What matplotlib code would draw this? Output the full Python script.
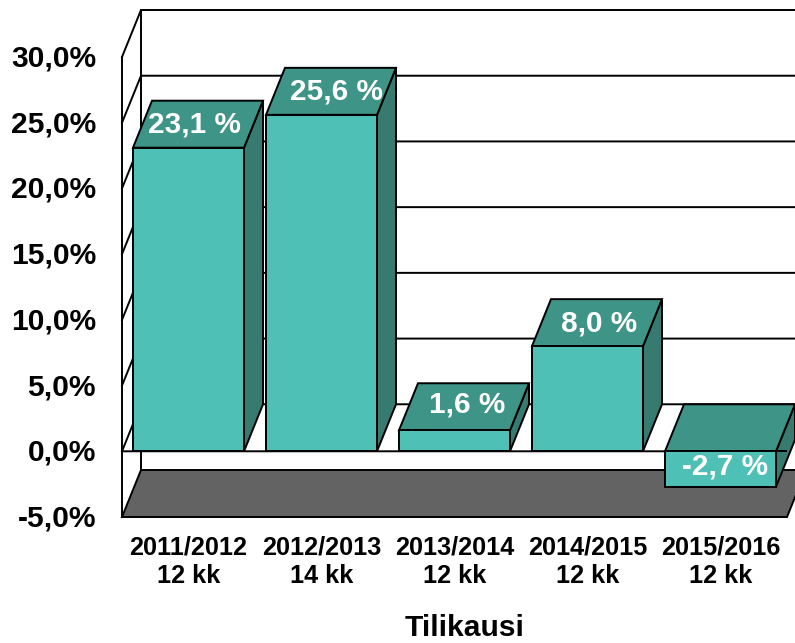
import matplotlib.pyplot as plt
import matplotlib.transforms as mtrans
import numpy as np

plt.rcParams["font.family"] = ["Liberation Sans", "DejaVu Sans"]

periods = ["2011/2012", "2012/2013", "2013/2014", "2014/2015", "2015/2016"]
months = ["12 kk", "14 kk", "12 kk", "12 kk", "12 kk"]
values = [23.1, 25.6, 1.6, 8.0, -2.7]
y_ticks = [-5, 0, 5, 10, 15, 20, 25, 30]

W, H = 795, 643
FRONT = "#4FC0B5"
TOP = "#3E9486"
SIDE = "#367A70"
FLOOR = "#636363"
LW = 1.4

fig = plt.figure(figsize=(W / 100, H / 100), dpi=100)
# axes box is the front plane of the 3d chart
ax = fig.add_axes([122 / W, 1 - 517 / H, 665 / W, 460 / H])
ax.set_xlim(-0.5, 4.5)
ax.set_ylim(-5, 30)
for s in ax.spines.values():
    s.set_visible(False)

# depth of the fake 3d in data units
dx = 19 / 133
dy = 47 / (460 / 35)
x_left, x_right = -0.5, 4.5

# back wall, left wall and grid
for t in y_ticks[1:]:
    ax.plot([x_left, x_left + dx, x_right + dx], [t, t + dy, t + dy],
            color="black", lw=LW, clip_on=False, zorder=1)
ax.plot([x_left, x_left], [-5, 30], color="black", lw=LW, clip_on=False, zorder=1)
ax.plot([x_left + dx, x_left + dx], [-5 + dy, 30 + dy], color="black", lw=LW, clip_on=False, zorder=1)

# floor
ax.fill([x_left, x_right, x_right + dx, x_left + dx], [-5, -5, -5 + dy, -5 + dy],
        facecolor=FLOOR, edgecolor="black", lw=LW, clip_on=False, zorder=2)

# bars, left to right
bar_w = 111 / 133
xs = np.arange(len(values))
for i, v in enumerate(values):
    x0 = xs[i] - bar_w / 2
    x1 = xs[i] + bar_w / 2
    top = max(v, 0)
    low = min(v, 0)
    z = 3 + i * 0.1
    ax.fill([x1, x1 + dx, x1 + dx, x1], [low, low + dy, top + dy, top],
            facecolor=SIDE, edgecolor="black", lw=LW, clip_on=False, zorder=z)
    ax.fill([x0, x1, x1 + dx, x0 + dx], [top, top, top + dy, top + dy],
            facecolor=TOP, edgecolor="black", lw=LW, clip_on=False, zorder=z)
    ax.bar(xs[i], v, width=bar_w, color=FRONT, edgecolor="black", lw=LW, zorder=z + 0.01)

# zero line in front
ax.plot([x_left, x_right, x_right + dx], [0, 0, dy], color="black", lw=LW, clip_on=False, zorder=2.5)
ax.plot([xs[-1] + bar_w / 2, x_right], [0, 0], color="black", lw=LW, zorder=4)

# value labels, offsets in pixels
label_dx = [5.5, 14.5, 13, 12, 5]
label_dy = [23.5, 23.5, 26, 23, -15]
for i, v in enumerate(values):
    ax.annotate(f"{v:.1f} %".replace(".", ","), (xs[i], v if v > 0 else 0),
                xytext=(label_dx[i] * 0.72, label_dy[i] * 0.72), textcoords="offset points",
                ha="center", va="center", color="white", fontsize=21.4, fontweight="bold", zorder=6)

ax.set_yticks(y_ticks)
ax.set_yticklabels([f"{t:.1f}%".replace(".", ",") for t in y_ticks], fontsize=21.6, fontweight="bold")
ax.set_xticks(xs)
ax.set_xticklabels([p + "\n" + m for p, m in zip(periods, months)], fontsize=18.2, fontweight="bold",
                   linespacing=1.27)
ax.tick_params(axis="y", length=0, pad=18.7)
ax.tick_params(axis="x", length=0, pad=13)
nudge = mtrans.ScaledTranslation(0, 1.5 / 100, fig.dpi_scale_trans)
for lab in ax.get_yticklabels():
    lab.set_transform(lab.get_transform() + nudge)

ax.set_xlabel("Tilikausi", fontsize=21.6, fontweight="bold", labelpad=20)
ax.xaxis.set_label_coords((464.5 - 122) / 665, -111 / 460)
ax.xaxis.label.set_va("center")

fig.savefig("out.png", dpi=100)
